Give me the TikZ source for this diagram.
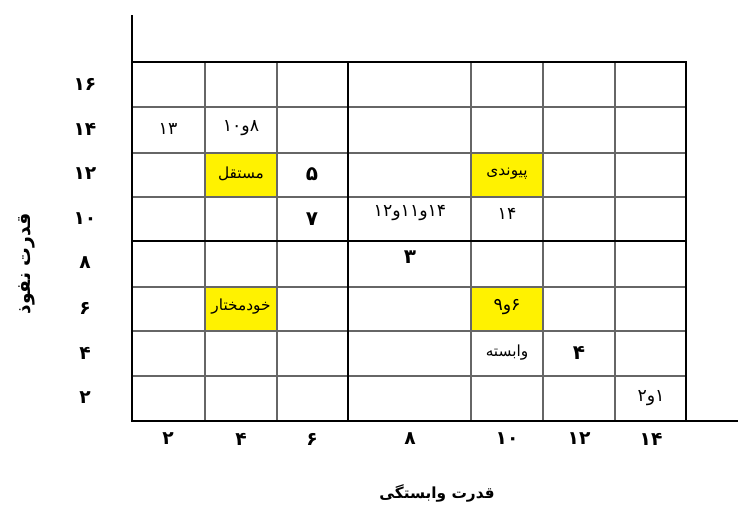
\documentclass[tikz,border=0pt]{standalone}
\usepackage{fontspec}
\TeXXeTstate=1
\newfontfamily\arabicfont[Script=Arabic]{DejaVu Sans}
\newcommand{\fatxt}[1]{\beginR #1\endR}
\usetikzlibrary{positioning}

\tikzset{
  gridline/.style={draw=black!60, line width=0.9pt},
  boldline/.style={draw=black, line width=1.3pt},
  hlcell/.style={fill=yellow},
  ticklbl/.style={font=\arabicfont\fontsize{14}{16}\selectfont\bfseries},
  celltxt/.style={font=\arabicfont\fontsize{11.5}{13}\selectfont},
  cellnum/.style={font=\arabicfont\fontsize{13}{15}\selectfont},
  bignum/.style={font=\arabicfont\fontsize{15}{17}\selectfont\bfseries},
  axistitle/.style={font=\arabicfont\fontsize{14}{16}\selectfont\bfseries},
}

\begin{document}
\begin{tikzpicture}[x=0.75pt,y=-0.75pt]
    \useasboundingbox (0,0) rectangle (748,508);

    % خانه‌های زرد
    \fill[hlcell] (205,153) rectangle (277,197); \fill[hlcell] (471,153) rectangle (543,197);
    \fill[hlcell] (205,287) rectangle (277,331); \fill[hlcell] (471,287) rectangle (543,331);

    % شبکه
    \draw[gridline] (205,62) -- (205,421); \draw[gridline] (277,62) -- (277,421);
    \draw[gridline] (471,62) -- (471,421); \draw[gridline] (543,62) -- (543,421); \draw[gridline] (615,62) -- (615,421);
    \draw[gridline] (132,107) -- (686,107); \draw[gridline] (132,153) -- (686,153); \draw[gridline] (132,197) -- (686,197);
    \draw[gridline] (132,287) -- (686,287); \draw[gridline] (132,331) -- (686,331); \draw[gridline] (132,376) -- (686,376);
    \draw[boldline] (132,62) rectangle (686,421);
    \draw[boldline] (348,62) -- (348,421); \draw[boldline] (132,241) -- (686,241);

    % محورها
    \draw[boldline] (132,15) -- (132,421) -- (738,421);

    % برچسب‌های محور عمودی
    \node[ticklbl] (y16) at (85,84) {۱۶}; \node[ticklbl] (y14) at (85,129) {۱۴};
    \node[ticklbl] (y12) at (85,174) {۱۲}; \node[ticklbl] (y10) at (85,219) {۱۰};
    \node[ticklbl] (y8) at (85,263) {۸}; \node[ticklbl] (y6) at (85,308) {۶};
    \node[ticklbl] (y4) at (85,353) {۴}; \node[ticklbl] (y2) at (85,398) {۲};

    % برچسب‌های محور افقی
    \node[ticklbl] (x2) at (168,439) {۲}; \node[ticklbl] (x4) at (241,439) {۴};
    \node[ticklbl] (x6) at (312,439) {۶}; \node[ticklbl] (x8) at (410,439) {۸};
    \node[ticklbl] (x10) at (507,439) {۱۰}; \node[ticklbl] (x12) at (579,439) {۱۲};
    \node[ticklbl] (x14) at (651,439) {۱۴};

    % عنوان محورها
    \node[axistitle, rotate=90] (ytitle) at (27,264) {\fatxt{قدرت نفوذ}};
    \node[axistitle, font=\arabicfont\fontsize{11.5}{14}\selectfont\bfseries] (xtitle) at (437,493) {\fatxt{قدرت وابستگی}};

    % محتوای خانه‌ها
    \node[cellnum] (c13) at (168,129) {۱۳};
    \node[cellnum] (c810) at (241,128) {\fatxt{۸و۱۰}};
    \node[celltxt] (mostaghel) at (241,174) {\fatxt{مستقل}};
    \node[bignum] (c5) at (312,174) {۵};
    \node[celltxt] (peyvandi) at (507,174) {\fatxt{پیوندی}};
    \node[bignum] (c7) at (312,219) {۷};
    \node[cellnum] (c141112) at (410,213) {\fatxt{۱۴و۱۱و۱۲}};
    \node[cellnum] (c14) at (507,214) {۱۴};
    \node[bignum] (c3) at (410,257) {۳};
    \node[celltxt] (khodmokhtar) at (241,307) {\fatxt{خودمختار}};
    \node[cellnum] (c69) at (507,307) {\fatxt{۶و۹}};
    \node[celltxt] (vabaste) at (507,353) {\fatxt{وابسته}};
    \node[bignum] (c4) at (579,353) {۴};
    \node[cellnum] (c12) at (651,398) {\fatxt{۱و۲}};
\end{tikzpicture}
\end{document}
